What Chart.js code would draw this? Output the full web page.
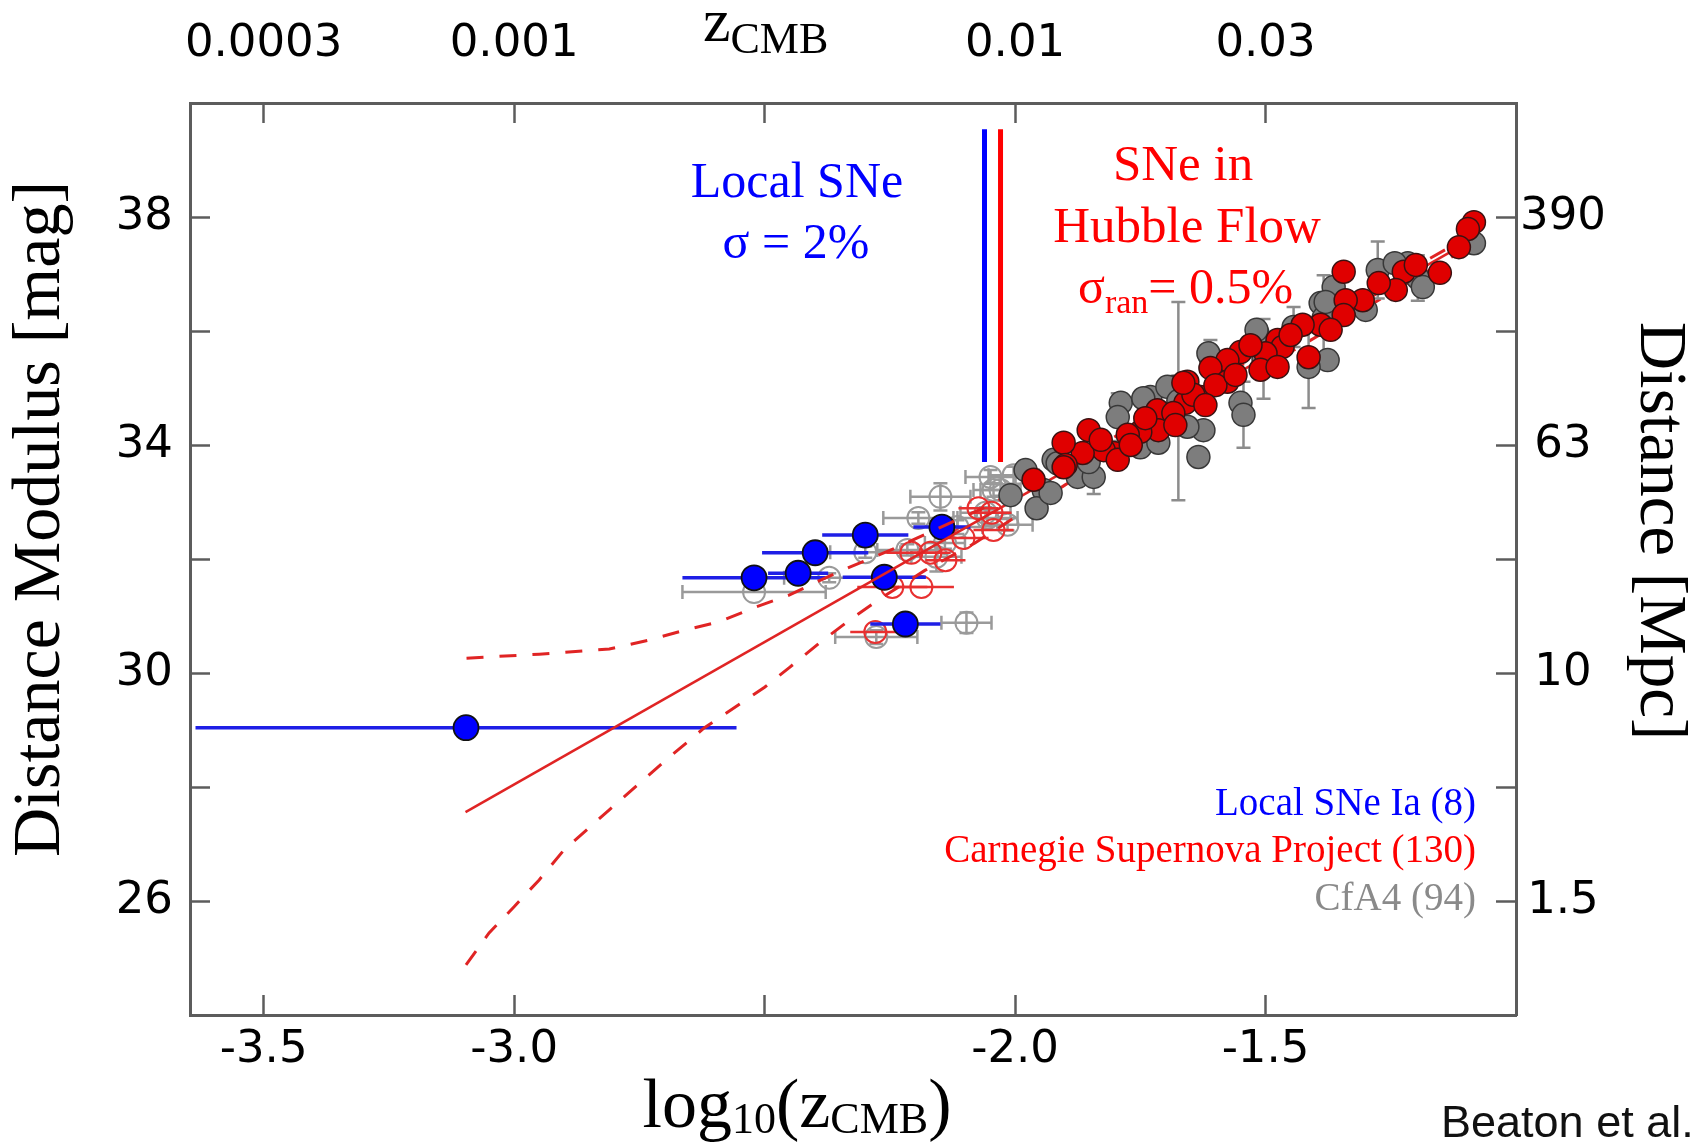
<!DOCTYPE html>
<html>
<head>
<meta charset="utf-8">
<script src="https://cdn.jsdelivr.net/npm/chart.js@4.4.0/dist/chart.umd.min.js"></script>
<style>
    html, body { margin: 0; padding: 0; background: #fff; }
    #wrap { width: 1701px; height: 1142px; }
</style>
</head>
<body>
<div id="wrap"><canvas id="chart" width="1701" height="1142"></canvas></div>
<script>
// AXES
const xTickValues = [-3.5, -3.0, -2.5, -2.0, -1.5];
const xBottomLabels = ["-3.5", "-3.0", "", "-2.0", "-1.5"];
const xTopLabels = ["0.0003", "0.001", "", "0.01", "0.03"];
const yTickValues = [26, 28, 30, 32, 34, 36, 38];
const yLeftLabels = ["26", "", "30", "", "34", "", "38"];
const yRightLabels = ["1.5", "", "10", "", "63", "", "390"];

// local SNe Ia (blue, filled)
const localX = [-3.096, -2.521, -2.433, -2.399, -2.299, -2.261, -2.219, -2.146];
const localY = [29.04, 31.67, 31.75, 32.11, 32.42, 31.68, 30.86, 32.56];
const localXErr = [0.54, 0.143, 0.06, 0.106, 0.086, 0.083, 0.07, 0.057];

// CSP in the Hubble flow (red, filled)
const cspX = [-1.084, -1.096, -1.114, -1.152, -1.224, -1.240, -1.274, -1.344, -1.306, -1.340,
    -1.344, -1.390, -1.426, -1.476, -1.466, -1.500, -1.510, -1.476, -1.414, -1.550,
    -1.576, -1.610, -1.576, -1.656, -1.630, -1.660, -1.716, -1.684, -1.714, -1.750,
    -1.775, -1.803, -1.823, -1.853, -1.865, -1.903, -1.899, -1.963, -1.903, -1.795,
    -1.644, -1.664, -1.530, -1.450, -1.370, -1.200, -1.600, -1.740, -1.829, -1.769,
    -1.680, -1.620, -1.560];
const cspY = [37.91, 37.79, 37.47, 37.02, 37.04, 36.72, 36.84, 37.04, 36.54, 36.54,
    36.28, 36.11, 36.11, 35.84, 35.72, 35.61, 35.32, 35.37, 35.54, 35.63,
    35.49, 35.35, 35.11, 35.11, 34.84, 34.74, 34.61, 34.56, 34.26, 34.23,
    34.18, 33.86, 33.91, 34.26, 33.86, 34.04, 33.65, 33.39, 33.61, 33.74,
    34.88, 35.09, 35.75, 35.93, 36.02, 37.16, 35.05, 34.47, 34.09, 34.00,
    34.35, 34.70, 35.23];

// CfA4 in the Hubble flow (grey, filled)
const cfaX = [-1.196, -1.216, -1.276, -1.300, -1.390, -1.364, -1.384, -1.444, -1.376, -1.414,
    -1.516, -1.610, -1.550, -1.544, -1.634, -1.624, -1.656, -1.710, -1.730, -1.684,
    -1.750, -1.714, -1.789, -1.795, -1.923, -1.875, -1.843, -1.943, -1.957, -1.929,
    -1.915, -1.744, -1.696, -1.614, -1.518, -1.380, -1.186, -1.242, -1.084, -1.674,
    -1.504, -1.853, -2.009, -1.979];
const cfaY = [36.93, 37.19, 37.07, 36.37, 36.49, 36.77, 36.23, 36.07, 35.49, 35.37,
    35.96, 35.54, 34.74, 34.53, 33.79, 34.26, 34.32, 34.56, 34.84, 35.02,
    33.96, 34.04, 34.74, 34.49, 33.74, 33.44, 33.44, 33.21, 32.89, 33.16,
    33.68, 34.82, 35.02, 35.61, 36.02, 36.51, 36.77, 37.19, 37.54, 34.77,
    35.51, 33.70, 33.12, 33.56];
const cfaYErr = [0.4, 0, 0.5, 0, 0, 0, 0.75, 0.35, 0, 0.72,
    0, 0.3, 0, 0.58, 0, 0, 0, 0, 0, 0,
    0, 0, 0, 0.42, 0, 0, 0.3, 0, 0, 0,
    0, 0, 0, 0, 0, 0, 0, 0, 0, 1.74,
    0.7, 0, 0, 0];

// low-z CfA4 (grey, open)
const cfaLowX = [-2.521, -2.371, -2.299, -2.097, -2.277, -2.149, -2.193, -2.157, -2.140, -2.115,
    -2.055, -2.043, -2.015, -2.003, -2.049, -2.029, -2.059, -2.215];
const cfaLowY = [31.42, 31.67, 32.12, 30.88, 30.63, 33.09, 32.72, 32.04, 32.28, 32.56,
    32.72, 33.21, 32.60, 33.47, 33.44, 33.21, 32.81, 32.16];
const cfaLowXErr = [0.143, 0.09, 0.07, 0.05, 0.082, 0.06, 0.07, 0.05, 0.04, 0.05,
    0.06, 0.04, 0.05, 0.05, 0.05, 0.04, 0.05, 0.06];
const cfaLowYErr = [0, 0.08, 0.1, 0.18, 0.12, 0.24, 0.1, 0.26, 0.1, 0.12,
    0.15, 0.12, 0.1, 0.15, 0.12, 0.1, 0.1, 0.1];

// low-z CSP (red, open)
const cspLowX = [-2.245, -2.187, -2.279, -2.207, -2.169, -2.103, -2.073, -2.047, -2.043, -2.139];
const cspLowY = [31.51, 31.51, 30.72, 32.11, 32.11, 32.37, 32.89, 32.81, 32.51, 31.98];
const cspLowXErr = [0.07, 0.065, 0.05, 0.05, 0.04, 0.05, 0.04, 0.04, 0.04, 0.04];

// Hubble law fit and its envelope
const fitX = [-3.097, -1.07];
const fitY = [27.56, 37.69];
const upperX = [-3.095, -2.95, -2.81, -2.73, -2.66, -2.59, -2.52, -2.45, -2.40, -2.335, -2.25, -2.15, -2.05, -1.90, -1.07];
const upperY = [30.26, 30.33, 30.42, 30.58, 30.75, 30.90, 31.15, 31.37, 31.58, 31.84, 32.15, 32.55, 32.95, 33.65, 37.78];
const lowerX = [-3.096, -3.05, -3.0, -2.95, -2.90, -2.81, -2.70, -2.62, -2.50, -2.45, -2.39, -2.33, -2.27, -2.18, -2.08, -1.90, -1.07];
const lowerY = [24.88, 25.44, 25.90, 26.37, 26.90, 27.60, 28.45, 29.04, 29.75, 30.10, 30.53, 30.93, 31.30, 31.80, 32.28, 33.30, 37.60];

// the two marker lines between local and Hubble flow
const splitBlueX = [-2.061, -2.061];
const splitRedX = [-2.029, -2.029];
const splitY = [39.54, 33.70];

function pts(xs, ys) {
    return xs.map((x, i) => ({x: x, y: ys[i]}));
}

const serif = '"Liberation Serif", "Times New Roman", serif';

// draws x/y error bars under the markers of a dataset
const errorBars = {
    id: "errorBars",
    beforeDatasetDraw(chart, args) {
        let ds = chart.data.datasets[args.index];
        if (!ds.xErr && !ds.yErr) return;
        let ctx = chart.ctx;
        let sx = chart.scales.x;
        let sy = chart.scales.y;
        let cap = ds.errCap || 0;
        ctx.save();
        ctx.strokeStyle = ds.errColor;
        ctx.lineWidth = ds.errWidth;
        ds.data.forEach((p, i) => {
            let px = sx.getPixelForValue(p.x);
            let py = sy.getPixelForValue(p.y);
            let ex = ds.xErr ? ds.xErr[i] : 0;
            let ey = ds.yErr ? ds.yErr[i] : 0;
            ctx.beginPath();
            if (ex > 0) {
                let x1 = sx.getPixelForValue(p.x - ex);
                let x2 = sx.getPixelForValue(p.x + ex);
                ctx.moveTo(x1, py);
                ctx.lineTo(x2, py);
                if (cap) {
                    ctx.moveTo(x1, py - cap); ctx.lineTo(x1, py + cap);
                    ctx.moveTo(x2, py - cap); ctx.lineTo(x2, py + cap);
                }
            }
            if (ey > 0) {
                let y1 = sy.getPixelForValue(p.y - ey);
                let y2 = sy.getPixelForValue(p.y + ey);
                ctx.moveTo(px, y1);
                ctx.lineTo(px, y2);
                if (cap) {
                    ctx.moveTo(px - cap, y1); ctx.lineTo(px + cap, y1);
                    ctx.moveTo(px - cap, y2); ctx.lineTo(px + cap, y2);
                }
            }
            ctx.stroke();
        });
        ctx.restore();
    }
};

// text runs with sub-scripts: [text, size, dy]
function drawRuns(ctx, x, y, runs, align) {
    let total = 0;
    let widths = [];
    for (let r of runs) {
        ctx.font = r[1] + "px " + serif;
        let w = ctx.measureText(r[0]).width;
        widths.push(w);
        total += w;
    }
    let cx = align === "center" ? x - total / 2 : x;
    ctx.textAlign = "left";
    runs.forEach((r, i) => {
        ctx.font = r[1] + "px " + serif;
        ctx.fillText(r[0], cx, y + r[2]);
        cx += widths[i];
    });
}

function drawText(ctx, text, x, y, font, color, align) {
    ctx.font = font;
    ctx.fillStyle = color;
    ctx.textAlign = align;
    ctx.fillText(text, x, y);
}

const labels = {
    id: "labels",
    afterDraw(chart) {
        let ctx = chart.ctx;
        ctx.save();
        ctx.textBaseline = "alphabetic";

        // axis titles
        ctx.fillStyle = "#000";
        drawRuns(ctx, 797, 1127, [["log", 70, 0], ["10", 44, 6], ["(", 70, 0], ["z", 70, 0], ["CMB", 44, 6], [")", 70, 0]], "center");
        drawRuns(ctx, 703, 41, [["z", 62, 0], ["CMB", 44, 12]], "left");

        ctx.save();
        ctx.translate(59, 519);
        ctx.rotate(-Math.PI / 2);
        drawText(ctx, "Distance Modulus [mag]", 0, 0, "68px " + serif, "#000", "center");
        ctx.restore();

        ctx.save();
        ctx.translate(1641, 531);
        ctx.rotate(Math.PI / 2);
        drawText(ctx, "Distance [Mpc]", 0, 0, "67px " + serif, "#000", "center");
        ctx.restore();

        // annotations
        drawText(ctx, "Local SNe", 797, 197, "50px " + serif, "#0000ff", "center");
        drawText(ctx, "σ = 2%", 796, 258, "50px " + serif, "#0000ff", "center");
        drawText(ctx, "SNe in", 1183, 180, "51px " + serif, "#ff0000", "center");
        drawText(ctx, "Hubble Flow", 1187, 242, "51px " + serif, "#ff0000", "center");
        ctx.fillStyle = "#ff0000";
        drawRuns(ctx, 1078, 303, [["σ", 50, 0], ["ran", 34, 10], ["= 0.5%", 50, 0]], "left");

        // legend
        drawText(ctx, "Local SNe Ia (8)", 1476, 815, "39px " + serif, "#0000ff", "right");
        drawText(ctx, "Carnegie Supernova Project (130)", 1476, 862, "39px " + serif, "#ff0000", "right");
        drawText(ctx, "CfA4 (94)", 1476, 910, "39px " + serif, "#8a8a8a", "right");

        drawText(ctx, "Beaton et al.", 1441, 1137, '45px "Liberation Sans", Arial, sans-serif', "#111", "left");
        ctx.restore();
    }
};

const tickFont = {family: "DejaVu Sans", size: 45, lineHeight: 1};
const frameColor = "#5c5c5c";

function axis(position, labelsList, values, padding, size) {
    let horizontal = position === "top" || position === "bottom";
    return {
        type: "linear",
        position: position,
        min: horizontal ? -3.647 : 24,
        max: horizontal ? -1.0 : 40,
        afterBuildTicks: (scale) => {
            scale.ticks = values.map(v => ({value: v}));
        },
        afterFit: (scale) => {
            if (horizontal) scale.height = size;
            else scale.width = size;
        },
        grid: {
            display: true,
            drawOnChartArea: false,
            drawTicks: true,
            tickLength: -20,
            tickWidth: 2.5,
            tickColor: frameColor
        },
        border: {display: true, color: frameColor, width: 3},
        ticks: {
            autoSkip: false,
            maxRotation: 0,
            padding: padding,
            color: "#000",
            font: tickFont,
            crossAlign: position === "right" ? "center" : "near",
            callback: (value, index) => labelsList[index]
        }
    };
}

let ctx = document.getElementById("chart").getContext("2d");
let chart = new Chart(ctx, {
    type: "scatter",
    data: {
        datasets: [
            {
                label: "split blue", data: pts(splitBlueX, splitY), showLine: true,
                borderColor: "#0000ff", borderWidth: 5, pointRadius: 0, order: 0
            },
            {
                label: "split red", data: pts(splitRedX, splitY), showLine: true,
                borderColor: "#ff0000", borderWidth: 5, pointRadius: 0, order: 0
            },
            {
                label: "CSP", data: pts(cspX, cspY),
                pointRadius: 11.5, pointBackgroundColor: "#e00000", pointBorderColor: "#3a1212",
                pointBorderWidth: 1.5, order: 1
            },
            {
                label: "CfA4", data: pts(cfaX, cfaY), yErr: cfaYErr,
                errColor: "#8c8c8c", errWidth: 2.5, errCap: 7,
                pointRadius: 11.5, pointBackgroundColor: "#7d7d7d", pointBorderColor: "#383838",
                pointBorderWidth: 1.5, order: 2
            },
            {
                label: "fit", data: pts(fitX, fitY), showLine: true,
                borderColor: "#e02424", borderWidth: 2.5, pointRadius: 0, order: 3
            },
            {
                label: "upper", data: pts(upperX, upperY), showLine: true,
                borderColor: "#e02424", borderWidth: 3, borderDash: [17, 16], pointRadius: 0, order: 3
            },
            {
                label: "lower", data: pts(lowerX, lowerY), showLine: true,
                borderColor: "#e02424", borderWidth: 3, borderDash: [17, 16], pointRadius: 0, order: 3
            },
            {
                label: "Local SNe Ia", data: pts(localX, localY), xErr: localXErr,
                errColor: "#1f1fe6", errWidth: 3.5, errCap: 0,
                pointRadius: 12.5, pointBackgroundColor: "#0000ff", pointBorderColor: "#111",
                pointBorderWidth: 1.8, order: 5
            },
            {
                label: "CSP low-z", data: pts(cspLowX, cspLowY), xErr: cspLowXErr,
                errColor: "#e83030", errWidth: 2.5, errCap: 0,
                pointRadius: 11, pointBackgroundColor: "rgba(0,0,0,0)", pointBorderColor: "#e83030",
                pointBorderWidth: 2, order: 6
            },
            {
                label: "CfA4 low-z", data: pts(cfaLowX, cfaLowY), xErr: cfaLowXErr, yErr: cfaLowYErr,
                errColor: "#9a9a9a", errWidth: 2.5, errCap: 7,
                pointRadius: 11, pointBackgroundColor: "rgba(0,0,0,0)", pointBorderColor: "#9a9a9a",
                pointBorderWidth: 2, order: 7
            }
        ]
    },
    options: {
        responsive: false,
        animation: false,
        devicePixelRatio: 1,
        events: [],
        layout: {padding: 0},
        plugins: {
            legend: {display: false},
            tooltip: {enabled: false}
        },
        scales: {
            x: axis("bottom", xBottomLabels, xTickValues, 33, 127),
            x2: axis("top", xTopLabels, xTickValues, 56, 103),
            y: axis("left", yLeftLabels, yTickValues, 37, 190),
            y2: axis("right", yRightLabels, yTickValues, 24, 185)
        }
    },
    plugins: [errorBars, labels]
});
</script>
</body>
</html>
